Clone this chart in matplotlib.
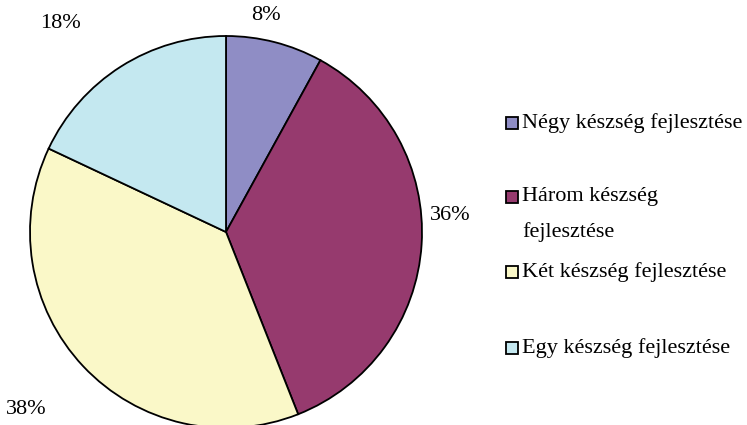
import matplotlib
matplotlib.use("Agg")
import matplotlib.pyplot as plt
from matplotlib.patches import Rectangle

# ---------- DATA ----------
categories = ["Négy készség fejlesztése", "Három készség\nfejlesztése",
              "Két készség fejlesztése", "Egy készség fejlesztése"]
shares = [8, 36, 38, 18]
colors = ["#8F8DC5", "#963A6E", "#FAF8C8", "#C4E8F0"]

plt.rcParams["font.family"] = ["Liberation Serif", "DejaVu Serif"]
FS = 16

W, H = 747, 425
fig = plt.figure(figsize=(W / 100, H / 100), dpi=100)

# pie centre (226, 232) px from top-left, radius 196 px
cx, cy, r = 226, 232, 196
ax = fig.add_axes([(cx - r) / W, (H - cy - r) / H, 2 * r / W, 2 * r / H])

wedges, texts = ax.pie(shares, colors=colors, startangle=90, counterclock=False,
                       radius=1, labels=[f"{v}%" for v in shares],
                       wedgeprops=dict(edgecolor="black", linewidth=1.3),
                       textprops=dict(fontsize=FS))
ax.set_xlim(-1, 1)
ax.set_ylim(-1, 1)
ax.set_aspect("auto")
ax.axis("off")
for w in wedges:
    w.set_clip_on(False)

# label positions (pixels in the picture)
label_px = [(266, 16), (450, 215), (26, 410), (60, 23)]
for t, (px, py) in zip(texts, label_px):
    t.set_position(((px - cx) / r, (cy - py) / r))
    t.set_ha("center")
    t.set_va("center")
    t.set_clip_on(False)

# ---------- LEGEND ----------
legend_y = [123, 197, 272, 348]
for lab, col, y in zip(categories, colors, legend_y):
    fig.patches.append(Rectangle((505.5 / W, (H - y - 6) / H), 12 / W, 12 / H,
                                 transform=fig.transFigure, facecolor=col,
                                 edgecolor="black", linewidth=1.3))
    fig.text(522 / W, (H - y) / H, lab.split("\n")[0], fontsize=FS,
             va="center", ha="left")
    if "\n" in lab:
        fig.text(522 / W, (H - y - 35) / H, lab.split("\n")[1], fontsize=FS,
                 va="center", ha="left")

fig.savefig("out.png", dpi=100)
